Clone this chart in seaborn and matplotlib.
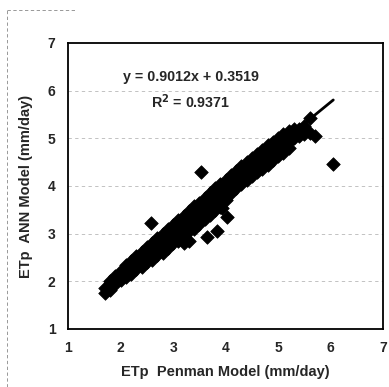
import matplotlib
matplotlib.use("Agg")
import matplotlib.pyplot as plt
import seaborn as sns
import pandas as pd
import numpy as np
from matplotlib.lines import Line2D

# ---- data (x = Penman, y = ANN), grouped by x ----
etp_penman = [
    1.70, 1.70,
    1.80, 1.80, 1.80,
    1.90, 1.90, 1.90,
    2.00, 2.00, 2.00,
    2.10, 2.10, 2.10, 2.10,
    2.20, 2.20, 2.20, 2.20,
    2.30, 2.30, 2.30, 2.30,
    2.40, 2.40, 2.40, 2.40,
    2.50, 2.50, 2.50, 2.50,
    2.58,
    2.60, 2.60, 2.60, 2.60,
    2.70, 2.70, 2.70, 2.70,
    2.80, 2.80, 2.80, 2.80,
    2.90, 2.90, 2.90, 2.90,
    3.00, 3.00, 3.00, 3.00,
    3.10, 3.10, 3.10, 3.10,
    3.20, 3.20, 3.20, 3.20, 3.20,
    3.30, 3.30, 3.30, 3.30, 3.30,
    3.40, 3.40, 3.40, 3.40,
    3.50, 3.50, 3.50, 3.50,
    3.53,
    3.60, 3.60, 3.60, 3.60,
    3.64,
    3.70, 3.70, 3.70, 3.70,
    3.80, 3.80, 3.80, 3.80,
    3.83,
    3.90, 3.90, 3.90, 3.90,
    3.93,
    4.00, 4.00, 4.00, 4.00,
    4.02,
    4.10, 4.10, 4.10, 4.10,
    4.20, 4.20, 4.20, 4.20,
    4.30, 4.30, 4.30, 4.30,
    4.40, 4.40, 4.40, 4.40,
    4.50, 4.50, 4.50, 4.50,
    4.60, 4.60, 4.60, 4.60,
    4.70, 4.70, 4.70, 4.70,
    4.80, 4.80, 4.80, 4.80,
    4.90, 4.90, 4.90, 4.90,
    5.00, 5.00, 5.00, 5.00,
    5.10, 5.10, 5.10, 5.10,
    5.20, 5.20, 5.20, 5.20,
    5.30, 5.30, 5.30,
    5.40, 5.40,
    5.50, 5.50,
    5.60, 5.60,
    5.70,
    6.04,
]
etp_ann = [
    1.76, 1.85,
    1.82, 1.92, 2.00,
    1.95, 2.05, 2.12,
    2.02, 2.12, 2.22,
    2.08, 2.18, 2.28, 2.35,
    2.15, 2.25, 2.35, 2.42,
    2.25, 2.35, 2.45, 2.52,
    2.30, 2.42, 2.52, 2.62,
    2.40, 2.50, 2.62, 2.72,
    3.22,
    2.45, 2.58, 2.70, 2.80,
    2.55, 2.68, 2.80, 2.90,
    2.60, 2.75, 2.88, 3.00,
    2.70, 2.85, 2.98, 3.10,
    2.80, 2.92, 3.05, 3.18,
    2.85, 3.00, 3.15, 3.28,
    2.80, 2.95, 3.10, 3.25, 3.38,
    2.85, 3.05, 3.20, 3.35, 3.48,
    3.10, 3.25, 3.42, 3.58,
    3.20, 3.35, 3.50, 3.65,
    4.30,
    3.30, 3.45, 3.60, 3.75,
    2.93,
    3.40, 3.55, 3.70, 3.85,
    3.50, 3.65, 3.80, 3.95,
    3.06,
    3.55, 3.72, 3.88, 4.05,
    3.54,
    3.70, 3.82, 3.98, 4.12,
    3.35,
    3.85, 3.92, 4.08, 4.22,
    3.95, 4.05, 4.18, 4.32,
    4.05, 4.15, 4.28, 4.42,
    4.12, 4.25, 4.38, 4.50,
    4.20, 4.32, 4.45, 4.58,
    4.30, 4.42, 4.55, 4.68,
    4.35, 4.50, 4.62, 4.75,
    4.45, 4.58, 4.70, 4.85,
    4.55, 4.68, 4.80, 4.92,
    4.62, 4.75, 4.88, 5.00,
    4.70, 4.82, 4.95, 5.08,
    4.80, 4.92, 5.05, 5.15,
    5.00, 5.12, 5.20,
    5.05, 5.20,
    5.10, 5.25,
    5.11, 5.43,
    5.05,
    4.46,
]
slope = 0.9012
intercept = 0.3519
r2 = 0.9371
ticks = [1, 2, 3, 4, 5, 6, 7]
x_label = "ETp  Penman Model (mm/day)"
y_label = "ETp  ANN Model (mm/day)"

df = pd.DataFrame({"penman": etp_penman, "ann": etp_ann})

sns.set_style("white")
plt.rcParams["font.family"] = ["Liberation Sans", "DejaVu Sans"]

fig = plt.figure(figsize=(3.89, 3.87), dpi=100)
ax = fig.add_axes([0.175, 0.150, 0.810, 0.739])

for v in [2, 3, 4, 5, 6]:
    ax.axhline(v, color="#b8b8b8", lw=0.6, ls=(0, (4, 4)), zorder=0)

sns.scatterplot(data=df, x="penman", y="ann", marker="D", s=48,
                color="black", edgecolor="black", linewidth=0.5, ax=ax, zorder=3)

fit_x = np.array([1.75, 6.05])
sns.lineplot(x=fit_x, y=slope * fit_x + intercept, color="black", lw=2.0,
             ax=ax, zorder=4)

ax.set_xlim(1, 7)
ax.set_ylim(1, 7)
ax.set_xticks(ticks)
ax.set_yticks(ticks)
ax.set_xticklabels([str(t) for t in ticks], fontsize=10, fontweight="bold")
ax.set_yticklabels([str(t) for t in ticks], fontsize=10, fontweight="bold")
ax.tick_params(axis="both", length=0, pad=9)
ax.set_xlabel(x_label, fontsize=10.5, fontweight="bold", labelpad=7)
ax.set_ylabel(y_label, fontsize=10.5, fontweight="bold", labelpad=11)

for s in ax.spines.values():
    s.set_color("black")
    s.set_linewidth(1.3)
    s.set_visible(True)

ax.text(3.34, 6.29, f"y = {slope}x + {intercept}", ha="center", va="center",
        fontsize=10.3, fontweight="bold")
ax.text(3.34, 5.77, f"R$^\\mathbf{{2}}$ = {r2}", ha="center", va="center",
        fontsize=10.3, fontweight="bold")

# faint dashed border from the scanned page
fig.add_artist(Line2D([7/389, 7/389], [0.0, 1 - 10/387], color="#888888",
                      lw=0.6, ls=(0, (4, 3))))
fig.add_artist(Line2D([7/389, 75/389], [1 - 10/387, 1 - 10/387], color="#888888",
                      lw=0.6, ls=(0, (4, 3))))

fig.savefig("out.png", dpi=100)
